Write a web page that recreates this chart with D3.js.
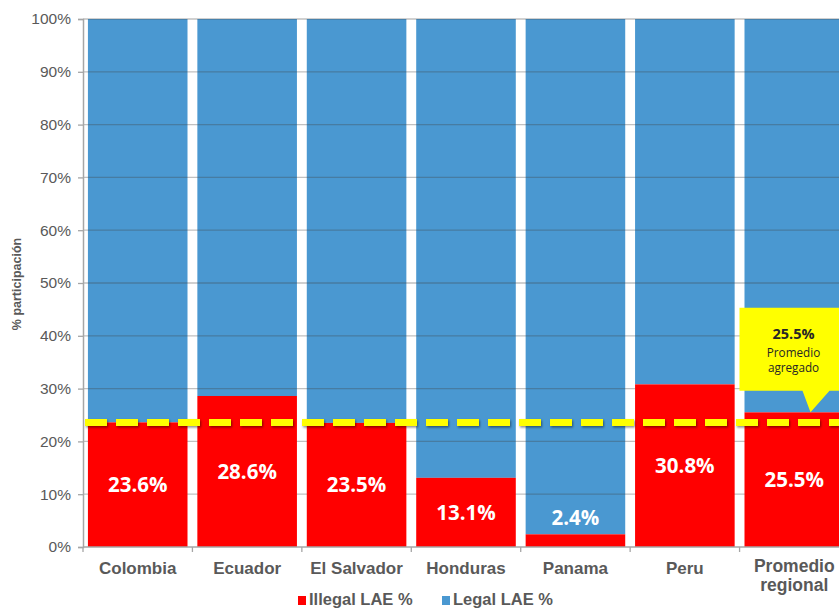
<!DOCTYPE html>
<html>
<head>
<meta charset="utf-8">
<script src="https://cdn.jsdelivr.net/npm/d3@7"></script>
<style>
  body { margin: 0; background: #fff; }
  svg { display: block; }
</style>
</head>
<body>
<script>
// data
var categories = ["Colombia", "Ecuador", "El Salvador", "Honduras", "Panama", "Peru", "Promedio regional"];
var illegal = [23.6, 28.6, 23.5, 13.1, 2.4, 30.8, 25.5];
var yTicks = [0, 10, 20, 30, 40, 50, 60, 70, 80, 90, 100];
var averageLine = 23.6;
var calloutValue = "25.5%";
var calloutLines = ["Promedio", "agregado"];
var legendItems = ["Illegal LAE %", "Legal LAE %"];

var width = 839, height = 610;
var red = "#ff0000", blue = "#4a98d1", gray = "#595959";

var svg = d3.select("body").append("svg")
    .attr("width", width)
    .attr("height", height);

var defs = svg.append("defs");
var sh = defs.append("filter").attr("id", "shadow")
    .attr("filterUnits", "userSpaceOnUse")
    .attr("x", 0).attr("y", 0).attr("width", width).attr("height", height);
sh.append("feDropShadow").attr("dx", 1).attr("dy", 1.5).attr("stdDeviation", 1)
    .attr("flood-color", "#000").attr("flood-opacity", 0.45);

var x = d3.scaleBand()
    .domain(categories)
    .range([83, 849])
    .paddingInner(0.09)
    .paddingOuter(0.045);

var y = d3.scaleLinear()
    .domain([0, 100])
    .range([547, 19]);

// blue (legal) part, top down to the red part
svg.selectAll("rect.legal")
    .data(illegal)
    .enter().append("rect")
    .attr("class", "legal")
    .attr("x", function (d, i) { return x(categories[i]); })
    .attr("y", y(100))
    .attr("width", x.bandwidth())
    .attr("height", function (d) { return y(d) - y(100); })
    .attr("fill", blue);

// gridlines
svg.selectAll("line.grid")
    .data(yTicks.slice(1))
    .enter().append("line")
    .attr("class", "grid")
    .attr("x1", 83).attr("x2", width)
    .attr("y1", function (d) { return y(d); })
    .attr("y2", function (d) { return y(d); })
    .attr("stroke", "#444")
    .attr("stroke-opacity", 0.33)
    .attr("stroke-width", 1.3);

// red (illegal) bars
svg.selectAll("rect.illegal")
    .data(illegal)
    .enter().append("rect")
    .attr("class", "illegal")
    .attr("x", function (d, i) { return x(categories[i]); })
    .attr("y", function (d) { return y(d); })
    .attr("width", x.bandwidth())
    .attr("height", function (d) { return y(0) - y(d); })
    .attr("fill", red);

// y axis
var yAxis = d3.axisLeft(y)
    .tickValues(yTicks)
    .tickSize(5)
    .tickPadding(7)
    .tickFormat(function (d) { return d + "%"; });

var gy = svg.append("g")
    .attr("transform", "translate(83,0)")
    .call(yAxis);
gy.select(".domain").attr("stroke", "#a6a6a6").attr("stroke-width", 1.5);
gy.selectAll(".tick line").attr("stroke", "#a6a6a6").attr("stroke-width", 1.3);
gy.selectAll(".tick text")
    .attr("font-family", "Liberation Sans, Arial, sans-serif")
    .attr("font-size", 15.5)
    .attr("fill", gray);

// x axis line and boundary ticks
svg.append("line")
    .attr("x1", 83).attr("x2", width)
    .attr("y1", y(0)).attr("y2", y(0))
    .attr("stroke", "#a6a6a6").attr("stroke-width", 1.5);

svg.selectAll("line.xtick")
    .data(categories)
    .enter().append("line")
    .attr("class", "xtick")
    .attr("x1", function (d) { return x(d) - x.step() * x.paddingInner() / 2; })
    .attr("x2", function (d) { return x(d) - x.step() * x.paddingInner() / 2; })
    .attr("y1", y(0)).attr("y2", y(0) + 5)
    .attr("stroke", "#a6a6a6").attr("stroke-width", 1.3);

// x labels
svg.selectAll("text.xlab")
    .data(categories)
    .enter().append("text")
    .attr("class", "xlab")
    .attr("text-anchor", "middle")
    .attr("font-family", "Liberation Sans, Arial, sans-serif")
    .attr("font-weight", "bold")
    .attr("font-size", 17)
    .attr("fill", gray)
    .each(function (d) {
        var t = d3.select(this);
        var cx = x(d) + x.bandwidth() / 2;
        if (d === "Promedio regional") {
            t.append("tspan").attr("x", cx).attr("y", 572).attr("font-size", 17.5).text("Promedio");
            t.append("tspan").attr("x", cx).attr("y", 591).attr("font-size", 17.5).text("regional");
        } else {
            t.attr("x", cx).attr("y", 574).text(d);
        }
    });

// y title
svg.append("text")
    .attr("transform", "translate(21,284) rotate(-90)")
    .attr("text-anchor", "middle")
    .attr("font-family", "Liberation Sans, Arial, sans-serif")
    .attr("font-weight", "bold")
    .attr("font-size", 12.5)
    .attr("fill", gray)
    .text("% participación");

// average dashed line
svg.append("line")
    .attr("x1", 85).attr("x2", width)
    .attr("y1", y(averageLine)).attr("y2", y(averageLine))
    .attr("stroke", "#ffff00")
    .attr("stroke-width", 7)
    .attr("stroke-dasharray", "22,9")
    .attr("filter", "url(#shadow)");

// value labels
svg.selectAll("text.val")
    .data(illegal)
    .enter().append("text")
    .attr("class", "val")
    .attr("x", function (d, i) { return x(categories[i]) + x.bandwidth() / 2; })
    .attr("y", function (d) { return Math.min((y(d) + y(0)) / 2, y(5.5)); })
    .attr("dy", "0.36em")
    .attr("text-anchor", "middle")
    .attr("font-family", "Open Sans, sans-serif")
    .attr("font-weight", "bold")
    .attr("font-size", 20.5)
    .attr("fill", "#fff")
    .text(function (d) { return d.toFixed(1) + "%"; });

// callout
var last = categories[categories.length - 1];
var bx0 = x(last) - 5, bx1 = x(last) + x.bandwidth() + 10;
var by0 = y(45.3), by1 = y(29.6);
var px0 = x(last) + 58, px1 = x(last) + 85, tipX = x(last) + 66, tipY = y(25.5);
svg.append("path")
    .attr("d", "M" + bx0 + "," + by0 + "H" + bx1 + "V" + by1 + "H" + px1 +
        "L" + tipX + "," + tipY + "L" + px0 + "," + by1 + "H" + bx0 + "Z")
    .attr("fill", "#ffff00");

var cx = x(last) + 49;
svg.append("text")
    .attr("x", cx).attr("y", 339)
    .attr("text-anchor", "middle")
    .attr("font-family", "Open Sans, sans-serif")
    .attr("font-weight", "bold")
    .attr("font-size", 14.5)
    .attr("fill", "#262626")
    .text(calloutValue);
calloutLines.forEach(function (s, i) {
    svg.append("text")
        .attr("x", cx).attr("y", 357 + i * 15)
        .attr("text-anchor", "middle")
        .attr("font-family", "Open Sans, sans-serif")
        .attr("font-size", 11.7)
        .attr("fill", "#262626")
        .text(s);
});

// legend
var legendColors = [red, blue];
var legendX = [298, 442];
legendItems.forEach(function (s, i) {
    svg.append("rect")
        .attr("x", legendX[i]).attr("y", 596)
        .attr("width", 8).attr("height", 9)
        .attr("fill", legendColors[i]);
    svg.append("text")
        .attr("x", legendX[i] + 11).attr("y", 605)
        .attr("font-family", "Liberation Sans, Arial, sans-serif")
        .attr("font-weight", "bold")
        .attr("font-size", 16.5)
        .attr("fill", gray)
        .text(s);
});
</script>
</body>
</html>
